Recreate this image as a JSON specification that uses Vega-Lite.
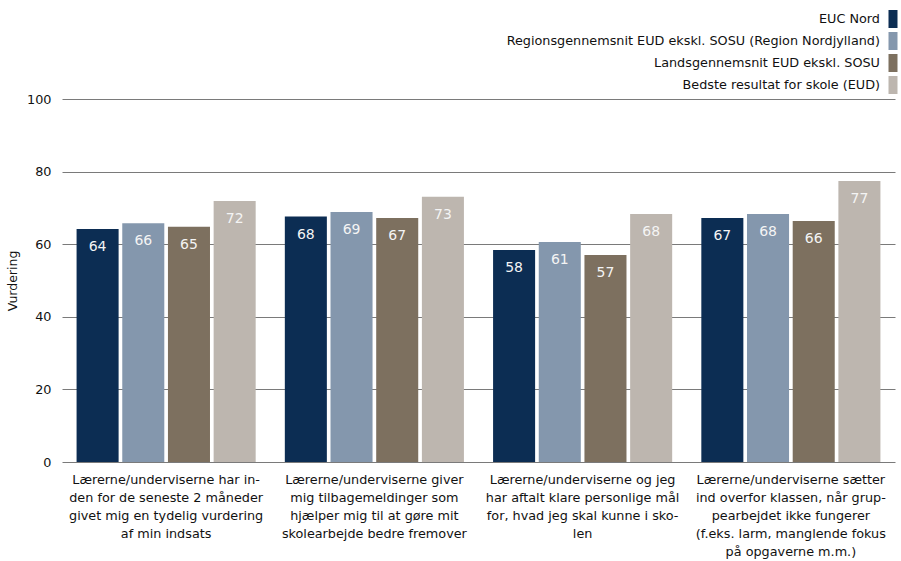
{
  "$schema": "https://vega.github.io/schema/vega-lite/v6.json",
  "autosize": "none",
  "width": 833,
  "height": 363,
  "padding": {"left": 62, "top": 99, "right": 6, "bottom": 99},
  "background": "white",
  "config": {
    "font": "DejaVu Sans",
    "view": {"stroke": null},
    "axis": {"labelFont": "DejaVu Sans", "titleFont": "DejaVu Sans", "labelColor": "#111111", "titleColor": "#111111"},
    "legend": {"labelFont": "DejaVu Sans"}
  },
  "data": {
    "values": [
      {"q": "Lærerne/underviserne har in-|den for de seneste 2 måneder|givet mig en tydelig vurdering|af min indsats", "s": "EUC Nord", "v": 64.2},
      {"q": "Lærerne/underviserne har in-|den for de seneste 2 måneder|givet mig en tydelig vurdering|af min indsats", "s": "Regionsgennemsnit EUD ekskl. SOSU (Region Nordjylland)", "v": 65.8},
      {"q": "Lærerne/underviserne har in-|den for de seneste 2 måneder|givet mig en tydelig vurdering|af min indsats", "s": "Landsgennemsnit EUD ekskl. SOSU", "v": 64.8},
      {"q": "Lærerne/underviserne har in-|den for de seneste 2 måneder|givet mig en tydelig vurdering|af min indsats", "s": "Bedste resultat for skole (EUD)", "v": 71.9},
      {"q": "Lærerne/underviserne giver|mig tilbagemeldinger som|hjælper mig til at gøre mit|skolearbejde bedre fremover", "s": "EUC Nord", "v": 67.6},
      {"q": "Lærerne/underviserne giver|mig tilbagemeldinger som|hjælper mig til at gøre mit|skolearbejde bedre fremover", "s": "Regionsgennemsnit EUD ekskl. SOSU (Region Nordjylland)", "v": 68.9},
      {"q": "Lærerne/underviserne giver|mig tilbagemeldinger som|hjælper mig til at gøre mit|skolearbejde bedre fremover", "s": "Landsgennemsnit EUD ekskl. SOSU", "v": 67.2},
      {"q": "Lærerne/underviserne giver|mig tilbagemeldinger som|hjælper mig til at gøre mit|skolearbejde bedre fremover", "s": "Bedste resultat for skole (EUD)", "v": 73.1},
      {"q": "Lærerne/underviserne og jeg|har aftalt klare personlige mål|for, hvad jeg skal kunne i sko-|len", "s": "EUC Nord", "v": 58.4},
      {"q": "Lærerne/underviserne og jeg|har aftalt klare personlige mål|for, hvad jeg skal kunne i sko-|len", "s": "Regionsgennemsnit EUD ekskl. SOSU (Region Nordjylland)", "v": 60.6},
      {"q": "Lærerne/underviserne og jeg|har aftalt klare personlige mål|for, hvad jeg skal kunne i sko-|len", "s": "Landsgennemsnit EUD ekskl. SOSU", "v": 57.0},
      {"q": "Lærerne/underviserne og jeg|har aftalt klare personlige mål|for, hvad jeg skal kunne i sko-|len", "s": "Bedste resultat for skole (EUD)", "v": 68.3},
      {"q": "Lærerne/underviserne sætter|ind overfor klassen, når grup-|pearbejdet ikke fungerer|(f.eks. larm, manglende fokus|på opgaverne m.m.)", "s": "EUC Nord", "v": 67.2},
      {"q": "Lærerne/underviserne sætter|ind overfor klassen, når grup-|pearbejdet ikke fungerer|(f.eks. larm, manglende fokus|på opgaverne m.m.)", "s": "Regionsgennemsnit EUD ekskl. SOSU (Region Nordjylland)", "v": 68.3},
      {"q": "Lærerne/underviserne sætter|ind overfor klassen, når grup-|pearbejdet ikke fungerer|(f.eks. larm, manglende fokus|på opgaverne m.m.)", "s": "Landsgennemsnit EUD ekskl. SOSU", "v": 66.4},
      {"q": "Lærerne/underviserne sætter|ind overfor klassen, når grup-|pearbejdet ikke fungerer|(f.eks. larm, manglende fokus|på opgaverne m.m.)", "s": "Bedste resultat for skole (EUD)", "v": 77.4}
    ]
  },
  "encoding": {
    "x": {
      "field": "q", "type": "nominal", "sort": null,
      "scale": {"paddingInner": 0.14, "paddingOuter": 0.07},
      "axis": {"title": null, "labelAngle": 0, "labelExpr": "split(datum.value, '|')", "labelFontSize": 12.8, "labelLineHeight": 18, "labelPadding": 11, "labelLimit": 300, "ticks": false, "domain": false, "labelBaseline": "top"}
    },
    "xOffset": {"field": "s", "type": "nominal", "sort": null, "scale": {"paddingInner": 0.08}},
    "y": {
      "field": "v", "type": "quantitative",
      "scale": {"domain": [0, 100]},
      "axis": {"title": "Vurdering", "titleFontSize": 12.5, "titleFontWeight": "normal", "titlePadding": 7, "values": [0, 20, 40, 60, 80, 100], "labelFontSize": 12.8, "labelPadding": 11, "ticks": false, "domain": false, "grid": true, "gridColor": "#7a7a7a", "gridWidth": 1}
    }
  },
  "layer": [
    {
      "mark": {"type": "bar"},
      "encoding": {
        "color": {
          "field": "s", "type": "nominal", "sort": null,
          "scale": {
            "domain": ["EUC Nord", "Regionsgennemsnit EUD ekskl. SOSU (Region Nordjylland)", "Landsgennemsnit EUD ekskl. SOSU", "Bedste resultat for skole (EUD)"],
            "range": ["#0c2d53", "#8497ad", "#7d705f", "#bdb6af"]
          },
          "legend": {
            "title": null, "orient": "none", "legendX": 822, "legendY": -89,
            "symbolType": "M-0.5,-1H0.5V1H-0.5Z", "symbolSize": 324, "symbolStrokeWidth": 0, "symbolOpacity": 1,
            "labelAlign": "right", "labelOffset": -22, "labelFontSize": 12.8, "labelColor": "#111111", "labelLimit": 500,
            "rowPadding": 4, "padding": 0
          }
        }
      }
    },
    {
      "mark": {"type": "text", "baseline": "top", "dy": 11, "color": "#f4f4f4", "fontSize": 14},
      "encoding": {
        "text": {"field": "v", "type": "quantitative", "format": ".0f"}
      }
    }
  ]
}
